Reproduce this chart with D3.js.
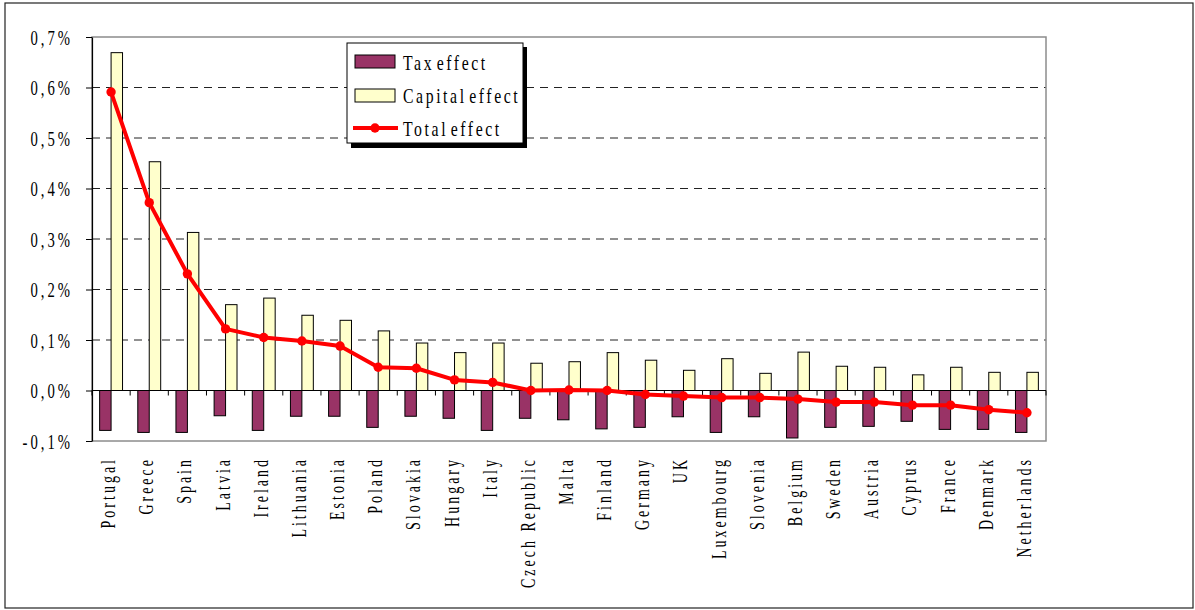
<!DOCTYPE html>
<html>
<head>
<meta charset="utf-8">
<script src="https://cdn.jsdelivr.net/npm/d3@7"></script>
<style>
  html, body { margin: 0; padding: 0; background: #fff; }
  svg { display: block; }
  text { font-family: "Liberation Serif", "DejaVu Serif", serif; fill: #000; }
</style>
</head>
<body>
<svg id="chart" width="1195" height="610"></svg>
<script>
// ---- data ----
const categories = ["Portugal","Greece","Spain","Latvia","Ireland","Lithuania","Estonia","Poland","Slovakia","Hungary","Italy","Czech Republic","Malta","Finland","Germany","UK","Luxembourg","Slovenia","Belgium","Sweden","Austria","Cyprus","France","Denmark","Netherlands"];
const taxEffect = [-0.079,-0.083,-0.083,-0.050,-0.079,-0.051,-0.051,-0.073,-0.051,-0.055,-0.079,-0.055,-0.058,-0.076,-0.073,-0.052,-0.083,-0.052,-0.094,-0.073,-0.071,-0.061,-0.077,-0.077,-0.083];
const capitalEffect = [0.669,0.453,0.313,0.170,0.183,0.149,0.139,0.118,0.094,0.075,0.094,0.054,0.057,0.075,0.060,0.040,0.063,0.034,0.076,0.048,0.046,0.031,0.046,0.036,0.036];
const totalEffect = [0.591,0.372,0.231,0.122,0.105,0.098,0.088,0.046,0.044,0.021,0.016,0.000,0.001,0.000,-0.008,-0.011,-0.014,-0.014,-0.017,-0.023,-0.023,-0.029,-0.029,-0.038,-0.044];
const yTicks = [-0.1,0,0.1,0.2,0.3,0.4,0.5,0.6,0.7];
const yTickLabels = ["-0,1%","0,0%","0,1%","0,2%","0,3%","0,4%","0,5%","0,6%","0,7%"];
const gridValues = [0.1,0.2,0.3,0.4,0.5,0.6];
const seriesNames = ["Tax effect","Capital effect","Total effect"];

// ---- style ----
const taxColor = "#993366", capColor = "#FFFFCC", lineColor = "#FF0000";
const SX = 0.7;      // horizontal glyph compression
const LS = 3;        // letter spacing (px, after compression)
const FS = 21;

const svg = d3.select("#chart");
const plot = {left: 92, right: 1046, top: 37, bottom: 441};

const x = d3.scaleBand().domain(categories).range([plot.left, plot.right]).padding(0);
const sub = d3.scaleBand().domain(["tax","capital"]).range([x.bandwidth()*0.2, x.bandwidth()*0.8]).padding(0);
const y = d3.scaleLinear().domain([-0.1, 0.7]).range([plot.bottom, plot.top]);

// outer frame
svg.append("rect").attr("x",5).attr("y",3).attr("width",1188).attr("height",605)
  .attr("fill","#fff").attr("stroke","#222").attr("stroke-width",1.2);

// gridlines
svg.append("g").selectAll("line").data(gridValues).join("line")
  .attr("x1",plot.left).attr("x2",plot.right)
  .attr("y1",d=>y(d)).attr("y2",d=>y(d))
  .attr("stroke","#222").attr("stroke-width",1).attr("stroke-dasharray","8,6");

// plot border (gray)
svg.append("rect").attr("x",plot.left).attr("y",plot.top)
  .attr("width",plot.right-plot.left).attr("height",plot.bottom-plot.top)
  .attr("fill","none").attr("stroke","#8c8c8c").attr("stroke-width",1.5);

// bars
const groups = svg.append("g").selectAll("g").data(categories).join("g")
  .attr("transform",d=>`translate(${x(d)},0)`);
groups.append("rect")
  .attr("x",sub("tax")).attr("width",sub.bandwidth())
  .attr("y",(d,i)=>y(Math.max(0,taxEffect[i])))
  .attr("height",(d,i)=>Math.abs(y(taxEffect[i])-y(0)))
  .attr("fill",taxColor).attr("stroke","#000").attr("stroke-width",1);
groups.append("rect")
  .attr("x",sub("capital")).attr("width",sub.bandwidth())
  .attr("y",(d,i)=>y(Math.max(0,capitalEffect[i])))
  .attr("height",(d,i)=>Math.abs(y(capitalEffect[i])-y(0)))
  .attr("fill",capColor).attr("stroke","#000").attr("stroke-width",1);

// y axis
const yAxis = svg.append("g").attr("transform",`translate(${plot.left},0)`)
  .call(d3.axisLeft(y).tickValues(yTicks).tickSize(6).tickSizeOuter(0)
    .tickFormat((d,i)=>yTickLabels[i]));
yAxis.select(".domain").attr("stroke","#000").attr("stroke-width",1.2);
yAxis.selectAll(".tick line").attr("stroke","#000");
yAxis.selectAll(".tick text")
  .attr("font-family","Liberation Serif").attr("font-size",FS)
  .attr("x",-19/SX).attr("dy","0.34em")
  .attr("transform",`scale(${SX},1)`)
  .style("letter-spacing",(LS/SX)+"px");

// category axis at zero
const y0 = y(0);
svg.append("line").attr("x1",plot.left).attr("x2",plot.right)
  .attr("y1",y0).attr("y2",y0).attr("stroke","#000").attr("stroke-width",1.2);
const bounds = categories.map(c=>x(c)).concat([plot.right]);
svg.append("g").selectAll("line").data(bounds).join("line")
  .attr("x1",d=>d).attr("x2",d=>d).attr("y1",y0).attr("y2",y0+5)
  .attr("stroke","#000").attr("stroke-width",1);

// category labels
svg.append("g").selectAll("g").data(categories).join("g")
  .attr("transform",d=>`translate(${x(d)+x.bandwidth()/2+4},457) rotate(-90) scale(${SX},1)`)
  .append("text")
  .attr("text-anchor","end").attr("font-size",20)
  .style("letter-spacing",(LS/SX)+"px")
  .text(d=>d);

// total line
const line = d3.line().x((d,i)=>x(categories[i])+x.bandwidth()/2).y(d=>y(d));
svg.append("path").datum(totalEffect).attr("d",line)
  .attr("fill","none").attr("stroke",lineColor).attr("stroke-width",4).attr("stroke-linejoin","round");
svg.append("g").selectAll("circle").data(totalEffect).join("circle")
  .attr("cx",(d,i)=>x(categories[i])+x.bandwidth()/2).attr("cy",d=>y(d))
  .attr("r",4.7).attr("fill",lineColor);

// legend
const LSX = 0.75, LLS = 2.6;
const lg = svg.append("g");
lg.append("rect").attr("x",351).attr("y",47).attr("width",176).attr("height",101).attr("fill","#000");
lg.append("rect").attr("x",347).attr("y",43).attr("width",176).attr("height",100)
  .attr("fill","#fff").attr("stroke","#000").attr("stroke-width",1);
lg.append("rect").attr("x",355).attr("y",55).attr("width",40).attr("height",13)
  .attr("fill",taxColor).attr("stroke","#000").attr("stroke-width",1);
lg.append("rect").attr("x",355).attr("y",89).attr("width",40).attr("height",13)
  .attr("fill",capColor).attr("stroke","#000").attr("stroke-width",1);
lg.append("line").attr("x1",353).attr("x2",398).attr("y1",128).attr("y2",128)
  .attr("stroke",lineColor).attr("stroke-width",4);
lg.append("circle").attr("cx",375).attr("cy",128).attr("r",4.7).attr("fill",lineColor);
const legendY = [69.5, 102.5, 136];
seriesNames.forEach((s,i)=>{
  lg.append("g").attr("transform",`translate(403,${legendY[i]}) scale(${LSX},1)`)
    .append("text").attr("font-size",FS)
    .style("letter-spacing",(LLS/LSX)+"px")
    .style("word-spacing",(-4/LSX)+"px")
    .text(s);
});
</script>
</body>
</html>
